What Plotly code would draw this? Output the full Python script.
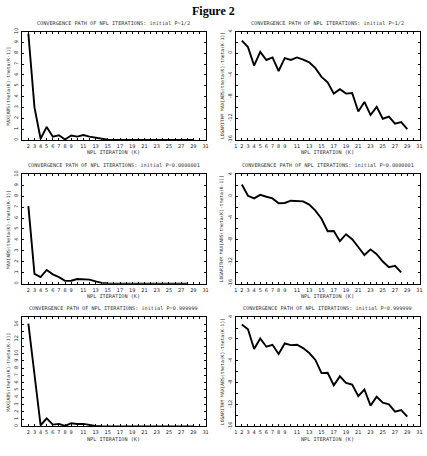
import plotly.graph_objects as go

# ---------------- data ----------------
iters_half = list(range(2, 30))      # P = 1/2
iters_small = list(range(2, 29))     # P = 0.0000001
iters_big = list(range(2, 30))       # P = 0.999999

maxabs_half = [9.8, 3.0, 0.1, 1.2, 0.3, 0.42, 0.04, 0.4, 0.3, 0.45, 0.3, 0.19, 0.065,
               0.013, 0.005, 0.0006, 0.0013, 0.0006, 0.0006, 0.00002, 0.0001, 0.00001,
               0.00005, 0.000005, 0.000008, 0.000002, 0.000003, 0.0000008]
logmax_half = [2.33, 1.13, -2.27, 0.24, -1.25, -0.78, -3.28, -0.9, -1.25, -0.78, -1.2,
               -1.67, -2.75, -4.36, -5.37, -7.46, -6.63, -7.46, -7.34, -10.75, -9.0,
               -11.4, -9.9, -12.1, -11.7, -13.0, -12.7, -14.0]

maxabs_small = [7.1, 0.9, 0.6, 1.25, 0.85, 0.6, 0.25, 0.27, 0.42, 0.4, 0.37, 0.2, 0.07,
                0.016, 0.0016, 0.0017, 0.0003, 0.001, 0.0004, 0.0001, 0.00002, 0.00006,
                0.000025, 0.000006, 0.000002, 0.000003, 0.0000009]
logmax_small = [2.15, 0.08, -0.4, 0.25, -0.1, -0.4, -1.3, -1.24, -0.82, -0.88, -0.94,
                -1.54, -2.63, -4.13, -6.42, -6.36, -8.23, -6.96, -7.87, -9.3, -10.76,
                -9.73, -10.6, -11.96, -12.99, -12.75, -13.95]

maxabs_big = [14.1, 7.0, 0.16, 1.1, 0.25, 0.35, 0.065, 0.44, 0.33, 0.35, 0.19, 0.077,
              0.022, 0.002, 0.002, 0.0002, 0.001, 0.0003, 0.0002, 0.00003, 0.0001,
              0.000005, 0.000025, 0.000009, 0.000006, 0.0000017, 0.0000023, 0.0000007]
logmax_big = [2.67, 1.77, -1.84, 0.08, -1.42, -1.06, -2.75, -0.82, -1.12, -1.06, -1.66,
              -2.57, -3.83, -6.24, -6.18, -8.47, -6.84, -8.05, -8.35, -10.46, -9.25,
              -12.2, -10.58, -11.66, -11.96, -13.3, -13.0, -14.2]

titles = ["CONVERGENCE PATH OF NPL ITERATIONS: initial P=1/2",
          "CONVERGENCE PATH OF NPL ITERATIONS: initial P=0.0000001",
          "CONVERGENCE PATH OF NPL ITERATIONS: initial P=0.999999"]
x_title = "NPL ITERATION (K)"
y_title_lin = "MAX[ABS(theta(K)-theta(K-1)]"
y_title_log = "LOGARITHM MAX[ABS(theta(K)-theta(K-1)]"

x_ticks = list(range(1, 32))
x_labels_left = [str(k) if (2 <= k <= 9 or (k >= 11 and k % 2 == 1)) else "" for k in x_ticks]
x_labels_right = [str(k) if (k <= 9 or k % 2 == 1) else "" for k in x_ticks]

lin10_ticks = list(range(0, 11))
lin15_ticks = list(range(0, 16))
lin15_labels = [str(v) if (v <= 10 or v in (12, 14)) else "" for v in lin15_ticks]
log_ticks = list(range(-16, 5, 2))
log_labels = [str(v) if v % 4 == 0 else "" for v in log_ticks]

# ---------------- layout geometry (pixels) ----------------
W, H = 427, 456
rows_px = [(28, 138), (173, 284), (318, 429)]
cols_px = [(20.5, 206), (236.5, 422.5)]

def fx(p):
    return p / W

def fy(p):
    return 1 - p / H

fig = go.Figure()
TICKFONT = dict(family="DejaVu Sans", size=5, color="#222")
TXTFONT = dict(family="DejaVu Sans Mono", size=5.2, color="#333")

panels = [
    (0, 0, iters_half, maxabs_half, "lin10"),
    (0, 1, iters_half, logmax_half, "log"),
    (1, 0, iters_small, maxabs_small, "lin10"),
    (1, 1, iters_small, logmax_small, "log"),
    (2, 0, iters_big, maxabs_big, "lin15"),
    (2, 1, iters_big, logmax_big, "log"),
]

annotations = []
for i, (r, c, xs, ys, kind) in enumerate(panels):
    n = i + 1
    xa = "x" if n == 1 else f"x{n}"
    ya = "y" if n == 1 else f"y{n}"
    fig.add_trace(go.Scatter(x=xs, y=ys, mode="lines", xaxis=xa, yaxis=ya,
                             line=dict(color="black", width=1.9), showlegend=False))
    (x0, x1) = cols_px[c]
    (y0, y1) = rows_px[r]
    common = dict(showline=True, linecolor="black", linewidth=1, mirror="ticks",
                  ticks="inside", ticklen=2, tickwidth=0.7, tickcolor="black",
                  showgrid=False, zeroline=False, tickfont=TICKFONT)
    xkey = "xaxis" if n == 1 else f"xaxis{n}"
    ykey = "yaxis" if n == 1 else f"yaxis{n}"
    fig.layout[xkey] = dict(domain=[fx(x0), fx(x1)], range=[1, 31], anchor=ya,
                            tickmode="array", tickvals=x_ticks,
                            ticktext=x_labels_left if c == 0 else x_labels_right,
                            tickangle=0, ticklabelstandoff=1, **common)
    if kind == "lin10":
        yr, tv, tt = [0, 10], lin10_ticks, [str(v) for v in lin10_ticks]
    elif kind == "lin15":
        yr, tv, tt = [0, 15], lin15_ticks, lin15_labels
    else:
        yr, tv, tt = [-16, 4], log_ticks, log_labels
    fig.layout[ykey] = dict(domain=[fy(y1), fy(y0)], range=yr, anchor=xa,
                            tickmode="array", tickvals=tv, ticktext=tt,
                            tickangle=-90, ticklabelstandoff=1, **common)
    annotations.append(dict(text=titles[r], x=fx((x0 + x1) / 2), y=fy(y0 - 9),
                            xref="paper", yref="paper", showarrow=False,
                            font=TXTFONT, xanchor="center", yanchor="middle"))
    annotations.append(dict(text=x_title, x=fx((x0 + x1) / 2), y=fy(y1 + 12.5),
                            xref="paper", yref="paper", showarrow=False,
                            font=TXTFONT, xanchor="center", yanchor="middle"))
    annotations.append(dict(text=y_title_lin if c == 0 else y_title_log,
                            x=fx(x0 - 13.5), y=fy((y0 + y1) / 2), textangle=-90,
                            xref="paper", yref="paper", showarrow=False,
                            font=dict(family="DejaVu Sans Mono", size=4.7, color="#333"),
                            xanchor="center", yanchor="middle"))

annotations.append(dict(text="<b>Figure 2</b>", x=fx(213.5), y=fy(7), xref="paper",
                        yref="paper", showarrow=False,
                        font=dict(family="Liberation Serif", size=12, color="black"),
                        xanchor="center", yanchor="middle"))

fig.update_layout(width=W, height=H, margin=dict(l=0, r=0, t=0, b=0),
                  paper_bgcolor="white", plot_bgcolor="white",
                  annotations=annotations, showlegend=False)

fig.write_html("out.html")
